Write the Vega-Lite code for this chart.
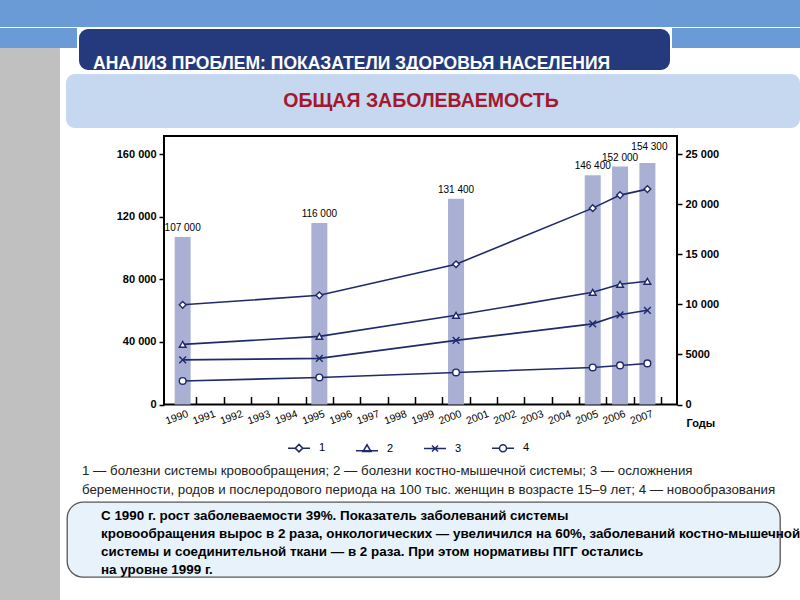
{
  "$schema": "https://vega.github.io/schema/vega-lite/v6.json",
  "background": "white",
  "padding": 0,
  "spacing": 0,
  "config": {
    "font": "Liberation Sans",
    "view": {"stroke": null},
    "concat": {"spacing": 0},
    "locale": {"number": {"decimal": ",", "thousands": " ", "grouping": [3], "currency": ["", ""]}}
  },
  "datasets": {
    "none": [],
    "bars": [
      {"year": 1990, "value": 107000},
      {"year": 1995, "value": 116000},
      {"year": 2000, "value": 131400},
      {"year": 2005, "value": 146400},
      {"year": 2006, "value": 152000},
      {"year": 2007, "value": 154300}
    ],
    "lines": [
      {"year": 1990, "series": "1", "value": 9950},
      {"year": 1995, "series": "1", "value": 10900},
      {"year": 2000, "series": "1", "value": 14000},
      {"year": 2005, "series": "1", "value": 19600},
      {"year": 2006, "series": "1", "value": 20900},
      {"year": 2007, "series": "1", "value": 21500},
      {"year": 1990, "series": "2", "value": 6000},
      {"year": 1995, "series": "2", "value": 6800},
      {"year": 2000, "series": "2", "value": 8900},
      {"year": 2005, "series": "2", "value": 11200},
      {"year": 2006, "series": "2", "value": 12000},
      {"year": 2007, "series": "2", "value": 12300},
      {"year": 1990, "series": "3", "value": 4450},
      {"year": 1995, "series": "3", "value": 4600},
      {"year": 2000, "series": "3", "value": 6400},
      {"year": 2005, "series": "3", "value": 8050},
      {"year": 2006, "series": "3", "value": 8950},
      {"year": 2007, "series": "3", "value": 9400},
      {"year": 1990, "series": "4", "value": 2350},
      {"year": 1995, "series": "4", "value": 2700},
      {"year": 2000, "series": "4", "value": 3200},
      {"year": 2005, "series": "4", "value": 3700},
      {"year": 2006, "series": "4", "value": 3900},
      {"year": 2007, "series": "4", "value": 4100}
    ]
  },
  "vconcat": [
    {"data": {"name": "none"}, "mark": "point", "width": 800, "height": 27, "view": {"fill": "#6a9bd6", "stroke": null}},
    {
      "spacing": 0,
      "hconcat": [
        {
          "spacing": 0,
          "vconcat": [
            {"data": {"name": "none"}, "mark": "point", "width": 77, "height": 20, "view": {"fill": "#6a9bd6", "stroke": null}},
            {
              "spacing": 0,
              "hconcat": [
                {"data": {"name": "none"}, "mark": "point", "width": 60, "height": 25, "view": {"fill": "#c0c0c0", "stroke": null}},
                {"data": {"name": "none"}, "mark": "point", "width": 17, "height": 25, "view": {"fill": "white", "stroke": null}}
              ]
            }
          ]
        },
        {
          "data": {"name": "none"}, "mark": "point", "width": 593, "height": 43,
          "view": {"fill": "#243a7c", "stroke": "white", "strokeWidth": 2, "cornerRadius": 10},
          "title": {"text": "АНАЛИЗ ПРОБЛЕМ: ПОКАЗАТЕЛИ ЗДОРОВЬЯ НАСЕЛЕНИЯ", "anchor": "start", "frame": "group", "orient": "top", "offset": 0, "baseline": "top", "dx": 15, "dy": 44, "fontSize": 17.5, "fontWeight": "bold", "color": "white"}
        },
        {
          "spacing": 0,
          "vconcat": [
            {"data": {"name": "none"}, "mark": "point", "width": 128, "height": 20, "view": {"fill": "#6a9bd6", "stroke": null}},
            {"data": {"name": "none"}, "mark": "point", "width": 128, "height": 25, "view": {"fill": "white", "stroke": null}}
          ]
        }
      ]
    },
    {
      "spacing": 0,
      "hconcat": [
        {"data": {"name": "none"}, "mark": "point", "width": 60, "height": 528, "view": {"fill": "#c0c0c0", "stroke": null}},
        {
          "spacing": 0,
          "vconcat": [
            {"data": {"name": "none"}, "mark": "point", "width": 740, "height": 1, "view": {"fill": "white", "stroke": null}},
            {
              "spacing": 0,
              "hconcat": [
                {"data": {"name": "none"}, "mark": "point", "width": 6, "height": 54, "view": {"fill": "white", "stroke": null}},
                {
                  "data": {"name": "none"}, "mark": "point", "width": 734, "height": 54,
                  "view": {"fill": "#c5d8ef", "stroke": null, "cornerRadius": 9},
                  "title": {"text": "ОБЩАЯ ЗАБОЛЕВАЕМОСТЬ", "anchor": "middle", "frame": "group", "orient": "top", "offset": 0, "baseline": "top", "dx": -12, "dy": 37, "fontSize": 19.5, "fontWeight": "bold", "color": "#a3182e"}
                }
              ]
            },
            {"data": {"name": "none"}, "mark": "point", "width": 740, "height": 6.5},
            {
              "spacing": 0,
              "hconcat": [
                {"data": {"name": "none"}, "mark": "point", "width": 55, "height": 10},
                {
                  "width": 513,
                  "height": 268.5,
                  "view": {"stroke": "black", "strokeWidth": 2},
                  "layer": [
                    {
                      "data": {"name": "bars"},
                      "encoding": {
                        "x": {
                          "field": "year", "type": "quantitative",
                          "scale": {"domain": [1989.5, 2007.9], "nice": false, "zero": false},
                          "axis": {"orient": "bottom", "values": [1990.5, 1991.5, 1992.5, 1993.5, 1994.5, 1995.5, 1996.5, 1997.5, 1998.5, 1999.5, 2000.5, 2001.5, 2002.5, 2003.5, 2004.5, 2005.5, 2006.5, 2007.5], "labels": false, "tickSize": -8, "tickWidth": 1.5, "tickColor": "black", "domain": false, "grid": false, "title": null}
                        },
                        "y": {
                          "field": "value", "type": "quantitative",
                          "scale": {"domain": [0, 171500], "nice": false},
                          "axis": {"orient": "left", "values": [0, 40000, 80000, 120000, 160000], "format": ",d", "tickSize": 5, "tickWidth": 1.5, "tickColor": "black", "domain": false, "grid": false, "title": null, "labelFontSize": 11, "labelFontWeight": "bold", "labelColor": "black", "labelPadding": 3, "labelOverlap": false, "labelFlush": false}
                        }
                      },
                      "layer": [
                        {"mark": {"type": "bar", "width": 16, "color": "#aab0d4"}},
                        {"transform": [{"filter": "datum.year != 2007"}], "mark": {"type": "text", "baseline": "bottom", "dy": -4, "fontSize": 10, "color": "black"}, "encoding": {"text": {"field": "value", "format": ",d"}}},
                        {"transform": [{"filter": "datum.year == 2007"}], "mark": {"type": "text", "baseline": "bottom", "dy": -11, "dx": 2, "fontSize": 10, "color": "black"}, "encoding": {"text": {"field": "value", "format": ",d"}}}
                      ]
                    },
                    {
                      "data": {"name": "lines"},
                      "encoding": {
                        "x": {
                          "field": "year", "type": "quantitative",
                          "scale": {"domain": [1989.5, 2007.9], "nice": false, "zero": false},
                          "axis": {"orient": "bottom", "values": [1990, 1991, 1992, 1993, 1994, 1995, 1996, 1997, 1998, 1999, 2000, 2001, 2002, 2003, 2004, 2005, 2006, 2007], "format": "d", "ticks": false, "domain": false, "grid": false, "labelAngle": -20, "labelAlign": "right", "labelBaseline": "top", "labelPadding": 4, "labelOffset": 3, "labelFontSize": 10.5, "labelColor": "black", "labelOverlap": false, "labelFlush": false, "title": "Годы", "titleX": 522, "titleY": 22, "titleAlign": "left", "titleAnchor": "start", "titleBaseline": "alphabetic", "titleFontSize": 11, "titleFontWeight": "bold", "titleColor": "black"}
                        },
                        "y": {
                          "field": "value", "type": "quantitative",
                          "scale": {"domain": [0, 26800], "nice": false},
                          "axis": {"orient": "right", "values": [0, 5000, 10000, 15000, 20000, 25000], "format": ",d", "labelExpr": "datum.value < 10000 ? format(datum.value, 'd') : datum.label", "tickSize": 5, "tickWidth": 1.5, "tickColor": "black", "domain": false, "grid": false, "title": null, "labelFontSize": 11, "labelFontWeight": "bold", "labelColor": "black", "labelPadding": 3, "labelOverlap": false, "labelFlush": false}
                        }
                      },
                      "layer": [
                        {"mark": {"type": "line", "color": "#1f2a6b", "strokeWidth": 1.6}, "encoding": {"detail": {"field": "series"}}},
                        {
                          "mark": {"type": "point", "filled": true, "fill": "white", "stroke": "#1f2a6b", "strokeWidth": 1.4, "size": 45, "opacity": 1},
                          "encoding": {"shape": {"field": "series", "scale": {"domain": ["1", "2", "3", "4"], "range": ["diamond", "triangle-up", "M-1,-1L1,1M-1,1L1,-1", "circle"]}, "legend": null}}
                        },
                        {
                          "data": {"name": "none"},
                          "mark": {"type": "point", "filled": false, "stroke": "#1f2a6b", "strokeWidth": 1.5, "size": 100},
                          "encoding": {"shape": {"field": "series", "type": "nominal", "scale": {"domain": ["1", "2", "3", "4"], "range": ["M-2.2,0H-0.75M0.75,0H2.2M0,-0.75L0.75,0L0,0.75L-0.75,0Z", "M-2.2,0.45H2.2M0,-0.75L0.8,0.6L-0.8,0.6Z", "M-2.2,0H2.2M-0.6,-0.6L0.6,0.6M-0.6,0.6L0.6,-0.6", "M-2.2,0H-0.7M0.7,0H2.2M0.7,0A0.7,0.7,0,1,1,-0.7,0A0.7,0.7,0,1,1,0.7,0Z"]}, "legend": {"orient": "none", "legendX": 129, "legendY": 306, "direction": "horizontal", "columns": 4, "title": null, "symbolSize": 100, "symbolStrokeWidth": 1.5, "symbolStrokeColor": "#1f2a6b", "symbolFillColor": "white", "symbolOpacity": 1, "labelFontSize": 11, "labelOffset": 14, "columnPadding": 27, "labelColor": "black"}}}
                        }
                      ],
                      "resolve": {"scale": {"shape": "independent"}}
                    }
                  ],
                  "resolve": {"scale": {"y": "independent"}, "axis": {"x": "independent"}}
                }
              ]
            },
            {"data": {"name": "none"}, "mark": "point", "width": 740, "height": 4},
            {
              "data": {"name": "none"}, "mark": "point", "width": 740, "height": 40,
              "title": {"text": ["1 — болезни системы кровообращения; 2 — болезни костно-мышечной системы; 3 — осложнения", "беременности, родов и послеродового периода на 100 тыс. женщин в возрасте 15–9 лет; 4 — новообразования"], "anchor": "start", "frame": "group", "orient": "top", "offset": 0, "baseline": "top", "dx": 22, "dy": 36, "fontSize": 13.3, "fontWeight": "normal", "lineHeight": 19, "color": "#222222"}
            },
            {"data": {"name": "none"}, "mark": "point", "width": 740, "height": 1},
            {
              "spacing": 0,
              "hconcat": [
                {"data": {"name": "none"}, "mark": "point", "width": 6, "height": 75},
                {
                  "data": {"name": "none"}, "mark": "point", "width": 713, "height": 75,
                  "view": {"fill": "#e8f2fb", "stroke": "#555555", "strokeWidth": 1.3, "cornerRadius": 16},
                  "title": {"text": ["С 1990 г. рост заболеваемости 39%. Показатель заболеваний системы", "кровообращения вырос  в 2 раза, онкологических — увеличился на 60%, заболеваний костно-мышечной", "системы и соединительной ткани — в 2 раза. При этом нормативы ПГГ  остались", "на уровне 1999 г."], "anchor": "start", "frame": "group", "orient": "top", "offset": 0, "baseline": "top", "dx": 34, "dy": 74, "fontSize": 13.4, "fontWeight": "bold", "lineHeight": 18, "color": "black"}
                }
              ]
            },
            {"data": {"name": "none"}, "mark": "point", "width": 740, "height": 20}
          ]
        }
      ]
    }
  ]
}
